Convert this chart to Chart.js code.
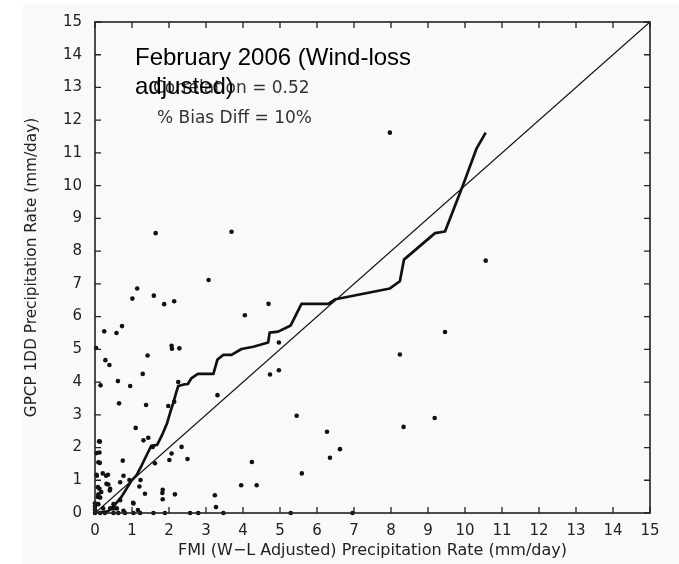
<!DOCTYPE html>
<html><head><meta charset="utf-8">
<script src="https://cdn.jsdelivr.net/npm/chart.js@4.4.1/dist/chart.umd.min.js"></script>
<style>html,body{margin:0;padding:0;background:#fff;overflow:hidden;}#wrap{width:679px;height:564px;}</style>
</head><body><div id="wrap"><canvas id="c" width="679" height="564"></canvas></div>
<script>
// ---- data ----
const scatterX = [7.97,10.56,1.64,3.69,3.07,1.14,1.01,1.59,1.87,2.14,4.05,4.69,0.25,0.58,0.73,0.03,2.07,2.08,2.28,0.28,0.39,1.42,4.97,1.29,4.73,4.97,0.62,0.15,0.95,2.25,3.31,0.65,1.38,1.98,2.14,1.10,1.31,1.44,0.11,0.12,0.09,1.56,2.34,2.07,2.01,2.50,0.75,1.62,0.21,0.30,0.05,0.77,0.68,0.36,0.41,0.12,0.93,1.23,1.20,1.35,1.83,1.82,1.83,2.16,1.04,3.24,3.27,0.68,0.50,0.09,0.14,0.09,0.22,0.41,0.59,0.77,8.24,8.34,9.18,9.46,5.45,6.27,6.62,6.35,5.59,4.24,3.95,4.37,3.47,5.29,6.96,0,0.14,0.27,0.50,0.63,0.81,1.04,1.22,1.58,1.89,2.57,2.79,0,0,0,0.04,0.13,0.13,0.04,0.35,0.08,0.17,0.08,0.49,1.16,0.31,0.40,1.03];
const scatterY = [11.62,7.71,8.55,8.59,7.12,6.86,6.55,6.64,6.38,6.47,6.04,6.39,5.55,5.50,5.71,5.04,5.11,5.02,5.03,4.67,4.52,4.81,5.21,4.25,4.23,4.36,4.03,3.90,3.88,4.00,3.60,3.35,3.30,3.27,3.40,2.60,2.22,2.30,2.19,1.85,1.55,2.02,2.02,1.82,1.62,1.65,1.60,1.52,1.21,1.14,1.14,1.14,0.94,0.87,0.74,0.74,1.01,1.01,0.81,0.59,0.71,0.61,0.42,0.57,0.29,0.54,0.18,0.39,0.27,0.57,0.47,0.27,0.14,0.14,0.14,0.07,4.84,2.63,2.90,5.53,2.97,2.48,1.95,1.69,1.21,1.56,0.85,0.85,0,0,0,0,0,0,0,0,0,0,0,0,0,0,0,0.10,0.30,0.20,1.83,2.18,1.53,1.17,1.17,0.79,0.64,0.49,0.14,0.09,0.89,0.69,0.31];
const meanX = [0.05,0.35,0.50,0.72,0.98,1.12,1.26,1.40,1.52,1.68,1.82,1.95,2.04,2.12,2.20,2.25,2.38,2.51,2.60,2.78,3.20,3.31,3.47,3.69,3.96,4.28,4.68,4.72,4.95,5.29,5.58,6.31,6.50,7.97,8.24,8.35,9.19,9.46,9.95,10.31,10.56];
const meanY = [0.00,0.05,0.20,0.50,0.98,1.15,1.45,1.78,2.05,2.08,2.40,2.75,3.10,3.38,3.70,3.88,3.92,3.94,4.11,4.25,4.25,4.69,4.83,4.83,5.01,5.08,5.21,5.51,5.54,5.73,6.39,6.39,6.53,6.86,7.08,7.74,8.55,8.60,10.03,11.13,11.62];
const oneToOneX = [0,15];
const oneToOneY = [0,15];
const tickValues = [0,1,2,3,4,5,6,7,8,9,10,11,12,13,14,15];
const titleLines = ['February 2006 (Wind-loss','adjusted)'];
const statLines = ['Correlation = 0.52','% Bias Diff = 10%'];
const xTitle = 'FMI (W\u2212L Adjusted) Precipitation Rate (mm/day)';
const yTitle = 'GPCP 1DD Precipitation Rate (mm/day)';

const toPts = (xs, ys) => xs.map((x, i) => ({x: x, y: ys[i]}));
const INK = '#111';
const tickFont = {family: 'DejaVu Sans', size: 15};

const framePlugin = {
  id: 'frame',
  beforeDraw(chart) {
    const ctx = chart.ctx;
    ctx.save();
    ctx.fillStyle = '#fff';
    ctx.fillRect(0, 0, chart.width, chart.height);
    ctx.fillStyle = '#f9f9f9';
    ctx.fillRect(23, 3, chart.width - 23, chart.height - 3);
    ctx.restore();
  },
  afterDatasetsDraw(chart) {
    const ctx = chart.ctx, a = chart.chartArea;
    const xs = chart.scales.x, ys = chart.scales.y;
    ctx.save();
    ctx.strokeStyle = '#222';
    ctx.lineWidth = 1.6;
    ctx.strokeRect(a.left, a.top, a.right - a.left, a.bottom - a.top);
    ctx.lineWidth = 1.3;
    const L = 6;
    ctx.beginPath();
    tickValues.forEach(v => {
      const px = xs.getPixelForValue(v);
      ctx.moveTo(px, a.bottom); ctx.lineTo(px, a.bottom - L);
      ctx.moveTo(px, a.top); ctx.lineTo(px, a.top + L);
      const py = ys.getPixelForValue(v);
      ctx.moveTo(a.left, py); ctx.lineTo(a.left + L, py);
      ctx.moveTo(a.right, py); ctx.lineTo(a.right - L, py);
    });
    ctx.stroke();
    // stats text
    ctx.fillStyle = '#333';
    ctx.textBaseline = 'alphabetic';
    ctx.font = '17px "DejaVu Sans"';
    ctx.fillText(statLines[0], 153, 93);
    ctx.fillText(statLines[1], 157, 123);
    // overlay title
    ctx.fillStyle = '#000';
    ctx.font = '24px "Liberation Sans", Arial, sans-serif';
    ctx.fillText(titleLines[0], 135, 65);
    ctx.fillText(titleLines[1], 135, 94);
    ctx.restore();
  }
};

const setTicks = s => { s.ticks = tickValues.map(v => ({value: v})); };

new Chart(document.getElementById('c'), {
  type: 'scatter',
  data: {
    datasets: [
      {type: 'scatter', data: toPts(scatterX, scatterY), pointRadius: 2.3, pointBackgroundColor: INK, pointBorderWidth: 0, clip: false, order: 3},
      {type: 'line', data: toPts(oneToOneX, oneToOneY), borderColor: INK, borderWidth: 1.3, pointRadius: 0, fill: false, tension: 0, order: 2},
      {type: 'line', data: toPts(meanX, meanY), borderColor: INK, borderWidth: 2.7, pointRadius: 0, fill: false, tension: 0, borderJoinStyle: 'round', order: 1}
    ]
  },
  options: {
    responsive: false,
    animation: false,
    devicePixelRatio: 1,
    layout: {padding: {top: 15, right: 29, left: 0, bottom: 0}},
    plugins: {legend: {display: false}, tooltip: {enabled: false}},
    scales: {
      x: {
        type: 'linear', min: 0, max: 15,
        afterBuildTicks: setTicks,
        afterFit: s => { s.height = 51; },
        grid: {display: false, drawTicks: false},
        border: {display: false},
        ticks: {font: tickFont, color: '#222', padding: 9, maxRotation: 0, autoSkip: false},
        title: {display: true, text: xTitle, font: {family: 'DejaVu Sans', size: 16}, color: '#222', padding: {top: 0, bottom: 4}}
      },
      y: {
        type: 'linear', min: 0, max: 15,
        afterBuildTicks: setTicks,
        afterFit: s => { s.width = 95; },
        grid: {display: false, drawTicks: false},
        border: {display: false},
        ticks: {font: tickFont, color: '#222', padding: 13, autoSkip: false},
        title: {display: true, text: yTitle, font: {family: 'DejaVu Sans', size: 15.3}, color: '#222', padding: {top: 23, bottom: 0}}
      }
    }
  },
  plugins: [framePlugin]
});
</script></body></html>
